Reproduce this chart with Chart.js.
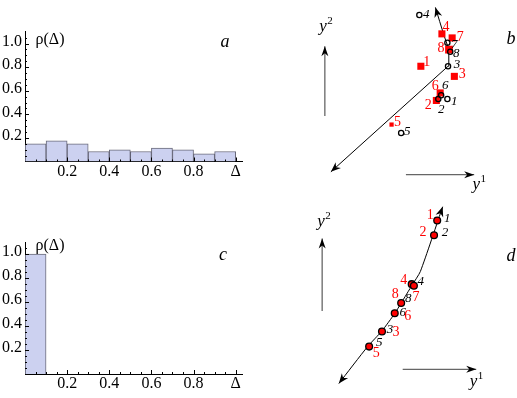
<!DOCTYPE html>
<html>
<head>
<meta charset="utf-8">
<script src="https://cdn.jsdelivr.net/npm/chart.js@4.4.0/dist/chart.umd.min.js"></script>
<style>
  body { margin: 0; background: #fff; }
  #wrap { position: relative; width: 517px; height: 398px; }
  canvas { position: absolute; }
</style>
</head>
<body>
<div id="wrap">
  <canvas id="chartA" width="260" height="200" style="left:0;top:0"></canvas>
  <canvas id="chartB" width="257" height="200" style="left:260px;top:0"></canvas>
  <canvas id="chartC" width="260" height="198" style="left:0;top:200px"></canvas>
  <canvas id="chartD" width="257" height="198" style="left:260px;top:200px"></canvas>
</div>
<script>
// ---- histogram data (panels a and c) ----
const binCenters = [0.05, 0.15, 0.25, 0.35, 0.45, 0.55, 0.65, 0.75, 0.85, 0.95];
const rhoA = [0.15, 0.175, 0.15, 0.085, 0.099, 0.085, 0.113, 0.099, 0.065, 0.085];
const rhoC = [1.0, 0, 0, 0, 0, 0, 0, 0, 0, 0];
const deltaTicks = [0.2, 0.4, 0.6, 0.8, 1.0];
const deltaTickLabels = ['0.2', '0.4', '0.6', '0.8', 'Δ'];
const rhoTicks = [0.2, 0.4, 0.6, 0.8, 1.0];
const rhoTickLabels = ['0.2', '0.4', '0.6', '0.8', '1.0'];

// ---- embedding data (panels b and d), coordinates (y1, y2) ----
const pointIds = ['1', '2', '3', '4', '5', '6', '7', '8'];
// panel b: open circles and red squares
const bCircleY1 = [1.90, 1.805, 1.907, 1.607, 1.417, 1.835, 1.90, 1.93];
const bCircleY2 = [1.01, 1.01, 1.357, 1.90, 0.65, 1.05, 1.607, 1.51];
const bSquareY1 = [1.623, 1.785, 1.973, 1.843, 1.317, 1.825, 1.95, 1.917];
const bSquareY2 = [1.357, 0.995, 1.25, 1.70, 0.74, 1.075, 1.657, 1.533];
const bCurveY1 = [0.683, 1.907, 1.915, 1.90, 1.865, 1.82, 1.775];
const bCurveY2 = [0.24, 1.357, 1.48, 1.58, 1.683, 1.83, 1.98];
// panel d: both sets coincide
const dPointY1 = [1.793, 1.76, 1.217, 1.527, 1.083, 1.35, 1.55, 1.417];
const dPointY2 = [1.82, 1.663, 0.647, 1.147, 0.487, 0.84, 1.13, 0.947];
const dCurveY1 = [0.767, 1.067, 1.217, 1.35, 1.417, 1.533, 1.617, 1.85];
const dCurveY2 = [0.097, 0.487, 0.653, 0.837, 0.947, 1.14, 1.28, 1.965];
// direction arrows [y1 start, y2 start, y1 end, y2 end]
const bAxisArrows = [[0.62, 0.83, 0.62, 1.57], [1.467, 0.21, 2.18, 0.21]];
const dAxisArrows = [[0.593, 0.863, 0.593, 1.63], [1.433, 0.247, 2.20, 0.247]];
const bAxisNames = [[0.63, 1.725, 'y', '2'], [2.23, 0.06, 'y', '1']];
const dAxisNames = [[0.61, 1.76, 'y', '2'], [2.20, 0.07, 'y', '1']];

// label offsets in pixels (layout only)
const bCircleLabelOff = [[7, 3], [3, 11], [9, -2], [7, 0], [6, -1], [4, -10], [7, 2], [6, 2]];
const bSquareLabelOff = [[6, -4], [-8, 5], [8, -2], [4, -7], [6, -2], [-5, -7], [8, -1], [-8, -1]];
const dRedLabelOff = [[-7, -5], [-11, -3], [14, 1], [-8, -4], [7, 7], [13, 3], [2, 12], [-6, -9]];
const dBlackLabelOff = [[10, -2], [11, -3], [8, -2], [9, -3], [10, -4], [8, -1], null, [7, -4]];

const serif = '"Liberation Serif", "Times New Roman", serif';

function pts(xs, ys) {
  return xs.map((v, i) => ({ x: v, y: ys[i] }));
}

function findLabel(ticks, labels, v) {
  const i = ticks.findIndex(t => Math.abs(t - v) < 1e-6);
  return i < 0 ? '' : labels[i];
}

// axes tick marks and axis/panel labels for histograms
const histDecor = {
  id: 'histDecor',
  afterDraw(chart, args, o) {
    const { ctx, scales: { x, y } } = chart;
    const x0 = x.getPixelForValue(0), y0 = y.getPixelForValue(0);
    ctx.save();
    ctx.strokeStyle = '#000';
    ctx.lineWidth = 1;
    ctx.beginPath();
    for (let k = 1; k <= 20; k++) {
      const px = Math.round(x.getPixelForValue(k * 0.05)) + 0.5;
      const len = k % 4 === 0 ? 4 : 2;
      ctx.moveTo(px, y0); ctx.lineTo(px, y0 - len);
    }
    for (let k = 1; k <= 21; k++) {
      const py = Math.round(y.getPixelForValue(k * 0.05)) + 0.5;
      const len = k % 4 === 0 ? 4 : 2;
      ctx.moveTo(x0, py); ctx.lineTo(x0 + len, py);
    }
    ctx.stroke();
    ctx.fillStyle = '#000';
    ctx.textAlign = 'center';
    ctx.textBaseline = 'middle';
    ctx.font = '16px ' + serif;
    ctx.fillText('ρ(Δ)', o.rhoX, o.rhoY);
    ctx.font = 'italic 18px ' + serif;
    ctx.fillText(o.letter, o.letterX, o.letterY);
    ctx.restore();
  }
};

function histConfig(values, o) {
  return {
    type: 'bar',
    data: {
      datasets: [{
        data: pts(binCenters, values),
        backgroundColor: 'rgb(204,209,240)',
        borderColor: 'rgba(80,80,100,0.85)',
        borderWidth: 1,
        borderSkipped: 'start',
        barPercentage: 1,
        categoryPercentage: 1
      }]
    },
    options: {
      responsive: false,
      animation: false,
      events: [],
      layout: { padding: { top: o.padTop, right: 18, left: 0, bottom: 0 } },
      plugins: { legend: { display: false }, tooltip: { enabled: false }, histDecor: o },
      scales: {
        x: {
          type: 'linear', min: 0, max: 1.03, offset: false,
          grid: { display: false, drawTicks: false, offset: false },
          border: { color: '#000', width: 1 },
          afterFit: s => { s.height = o.xHeight; },
          ticks: {
            stepSize: 0.2, includeBounds: false, autoSkip: false, maxRotation: 0,
            padding: o.xPad, color: '#000', font: { family: serif, size: 16 },
            callback: v => findLabel(deltaTicks, deltaTickLabels, v)
          }
        },
        y: {
          min: 0, max: 1.1,
          grid: { display: false, drawTicks: false },
          border: { color: '#000', width: 1 },
          afterFit: s => { s.width = 25; },
          ticks: {
            stepSize: 0.2, includeBounds: false, autoSkip: false,
            padding: 3, labelOffset: -2, color: '#000', font: { family: serif, size: 16 },
            callback: v => findLabel(rhoTicks, rhoTickLabels, v)
          }
        }
      }
    },
    plugins: [histDecor]
  };
}

function arrowHead(ctx, x0, y0, x1, y1, len, half) {
  const a = Math.atan2(y1 - y0, x1 - x0);
  const c = Math.cos(a), s = Math.sin(a);
  ctx.beginPath();
  ctx.moveTo(x1, y1);
  ctx.lineTo(x1 - len * c + half * s, y1 - len * s - half * c);
  ctx.lineTo(x1 - len * 0.7 * c, y1 - len * 0.7 * s);
  ctx.lineTo(x1 - len * c - half * s, y1 - len * s + half * c);
  ctx.closePath();
  ctx.fill();
}

// arrows, point labels and panel letters for the embedding panels
const mapDecor = {
  id: 'mapDecor',
  afterDraw(chart, args, o) {
    const { ctx, scales: { x, y } } = chart;
    ctx.save();
    // curve arrowheads
    const line = chart.getDatasetMeta(0).data;
    const n = line.length;
    ctx.fillStyle = '#000';
    arrowHead(ctx, line[1].x, line[1].y, line[0].x, line[0].y, 10, 4);
    arrowHead(ctx, line[n - 2].x, line[n - 2].y, line[n - 1].x, line[n - 1].y, 10, 4);
    // direction arrows
    o.arrows.forEach(a => {
      const xa = x.getPixelForValue(a[0]), ya = y.getPixelForValue(a[1]);
      const xb = x.getPixelForValue(a[2]), yb = y.getPixelForValue(a[3]);
      ctx.strokeStyle = '#666';
      ctx.lineWidth = 1.3;
      ctx.beginPath(); ctx.moveTo(xa, ya); ctx.lineTo(xb, yb); ctx.stroke();
      ctx.fillStyle = '#000';
      arrowHead(ctx, xa, ya, xb, yb, 10, 3.5);
    });
    // axis names with superscripts
    o.names.forEach(nm => {
      const px = x.getPixelForValue(nm[0]), py = y.getPixelForValue(nm[1]);
      ctx.fillStyle = '#000';
      ctx.textAlign = 'left';
      ctx.textBaseline = 'alphabetic';
      ctx.font = 'italic 17px ' + serif;
      const w = ctx.measureText(nm[2]).width;
      ctx.font = '11px ' + serif;
      const ws = ctx.measureText(nm[3]).width;
      const left = px - (w + ws) / 2;
      ctx.font = 'italic 17px ' + serif;
      ctx.fillText(nm[2], left, py);
      ctx.font = '11px ' + serif;
      ctx.fillText(nm[3], left + w + 0.5, py - 7);
    });
    // point labels
    ctx.textAlign = 'center';
    ctx.textBaseline = 'middle';
    o.labels.forEach(L => {
      const meta = chart.getDatasetMeta(L.ds);
      ctx.fillStyle = L.color;
      ctx.font = L.font;
      meta.data.forEach((p, i) => {
        const off = L.offsets[i];
        if (!off) return;
        ctx.fillText(pointIds[i], p.x + off[0], p.y + off[1]);
      });
    });
    ctx.font = 'italic 18px ' + serif;
    ctx.fillStyle = '#000';
    ctx.fillText(o.letter, o.letterX, o.letterY);
    ctx.restore();
  }
};

function mapConfig(datasets, ymax, o) {
  return {
    type: 'scatter',
    data: { datasets: datasets },
    options: {
      responsive: false,
      animation: false,
      events: [],
      layout: { padding: 0 },
      plugins: { legend: { display: false }, tooltip: { enabled: false }, mapDecor: o },
      scales: {
        x: { type: 'linear', display: false, min: 0, max: 2.57 },
        y: { type: 'linear', display: false, min: 0, max: ymax }
      }
    },
    plugins: [mapDecor]
  };
}

// panel a
new Chart(document.getElementById('chartA'), histConfig(rhoA, {
  padTop: 31.7, xHeight: 38.5, xPad: 1,
  rhoX: 50, rhoY: 40, letter: 'a', letterX: 225, letterY: 42
}));

// panel c
new Chart(document.getElementById('chartC'), histConfig(rhoC, {
  padTop: 42, xHeight: 24, xPad: 0,
  rhoX: 50, rhoY: 46, letter: 'c', letterX: 223, letterY: 55
}));

// panel b
new Chart(document.getElementById('chartB'), mapConfig([
  { type: 'line', data: pts(bCurveY1, bCurveY2), borderColor: '#000', borderWidth: 1,
    pointRadius: 0, fill: false, tension: 0, clip: false, order: 3 },
  { data: pts(bSquareY1, bSquareY2), pointStyle: 'rect',
    pointRadius: [5, 5, 5, 5, 3, 5, 5, 5.5], backgroundColor: '#f00', borderColor: '#f00',
    borderWidth: 0, clip: false, order: 2 },
  { data: pts(bCircleY1, bCircleY2), pointStyle: 'circle', pointRadius: 2.6,
    backgroundColor: 'rgba(0,0,0,0)', borderColor: '#000', borderWidth: 1.3, clip: false, order: 1 }
], 2.0, {
  arrows: bAxisArrows, names: bAxisNames,
  labels: [
    { ds: 2, offsets: bCircleLabelOff, color: '#000', font: 'italic 13px ' + serif },
    { ds: 1, offsets: bSquareLabelOff, color: '#f00', font: '14px ' + serif }
  ],
  letter: 'b', letterX: 251, letterY: 39
}));

// panel d
new Chart(document.getElementById('chartD'), mapConfig([
  { type: 'line', data: pts(dCurveY1, dCurveY2), borderColor: '#000', borderWidth: 1,
    pointRadius: 0, fill: false, tension: 0.2, clip: false, order: 2 },
  { data: pts(dPointY1, dPointY2), pointStyle: 'circle', pointRadius: 3.4,
    backgroundColor: '#f00', borderColor: '#000', borderWidth: 1.3, clip: false, order: 1 }
], 1.98, {
  arrows: dAxisArrows, names: dAxisNames,
  labels: [
    { ds: 1, offsets: dBlackLabelOff, color: '#000', font: 'italic 13px ' + serif },
    { ds: 1, offsets: dRedLabelOff, color: '#f00', font: '14px ' + serif }
  ],
  letter: 'd', letterX: 251, letterY: 56
}));
</script>
</body>
</html>
